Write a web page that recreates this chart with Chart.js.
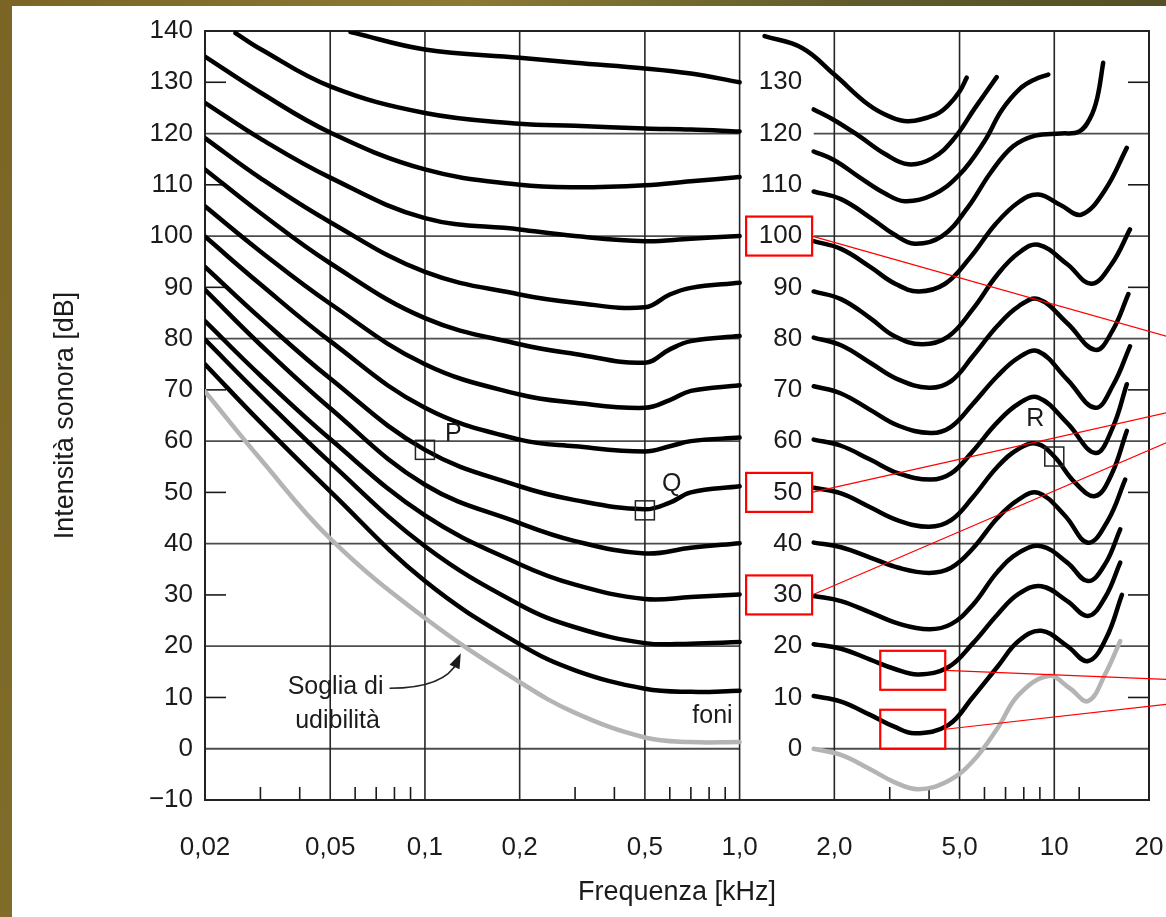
<!DOCTYPE html>
<html>
<head>
<meta charset="utf-8">
<script src="https://cdn.jsdelivr.net/npm/chart.js@4.4.1/dist/chart.umd.min.js"></script>
<style>
  html, body { margin: 0; padding: 0; }
  body {
    width: 1166px; height: 917px; overflow: hidden; position: relative;
    background: linear-gradient(100deg, #7a6524 0%, #8c7a34 35%, #5f5b2a 65%, #4d4a22 100%);
  }
  #foglio { position: absolute; left: 12px; top: 6px; right: 0; bottom: 0; background: #fff; }
  #grafico { position: absolute; left: 0; top: 0; }
</style>
</head>
<body>
<div id="foglio"></div>
<canvas id="grafico" width="1166" height="917"></canvas>
<script>
// ----------- DATI ------------
// frequenze in kHz, livelli in dB; [1.3, null] separa la parte sinistra dalla destra
const xTickValues = [0.02, 0.05, 0.1, 0.2, 0.5, 1, 2, 5, 10, 20];
const xTickLabels = ['0,02', '0,05', '0,1', '0,2', '0,5', '1,0', '2,0', '5,0', '10', '20'];
const xGridValues = [0.05, 0.1, 0.2, 0.5, 1, 2, 5, 10];
const xMinorTicks = [0.03, 0.04, 0.06, 0.07, 0.08, 0.09, 0.3, 0.4, 0.6, 0.7, 0.8, 0.9, 3, 4, 6, 7, 8, 9, 12];
const yGridValues = [0, 20, 40, 60, 80, 100, 120];
const yShortTicks = [10, 30, 50, 70, 90, 110, 130];
const foniLabels = [130, 120, 110, 100, 90, 80, 70, 60, 50, 40, 30, 20, 10, 0];

const soglia = [[0.02,69.7],[0.03,56.5],[0.05,41],[0.1,25.5],[0.2,13],[0.3,7],[0.5,2.2],[0.7,1.3],[1,1.3],[1.3,null],
  [1.72,0],[2.1,-1.2],[2.6,-4],[3.1,-6.5],[3.7,-7.9],[4.6,-6.3],[5.5,-2.5],[6.6,4],[7.7,10.5],[9.6,14.2],[11.2,11.8],[12.8,9.3],[14.5,14.5],[16.2,21]];
const ph10 = [[0.02,75],[0.03,63.7],[0.05,50.2],[0.1,32.7],[0.2,20.4],[0.3,15.3],[0.5,11.7],[0.7,11.1],[1,11.3],[1.3,null],
  [1.72,10.3],[2.1,9.2],[2.6,6.6],[3.1,4.3],[3.6,3],[4.6,4.6],[5.5,10],[6.6,16],[7.7,21],[9.1,23],[11,20],[12.8,17.1],[14.6,21.5],[16.4,30]];
const ph20 = [[0.02,79.8],[0.03,68.9],[0.05,55.8],[0.1,39.5],[0.2,28.1],[0.3,23.7],[0.5,20.6],[0.7,20.5],[1,20.8],[1.3,null],
  [1.72,20.4],[2.1,19.5],[2.6,17.4],[3.1,15.6],[3.7,14.5],[4.6,15.9],[5.5,20.5],[6.6,26.2],[7.7,30.2],[9.1,31.7],[11,28.8],[12.8,25.9],[14.5,29.5],[16.2,36.3]];
const ph30 = [[0.02,83.4],[0.03,72.8],[0.05,60.4],[0.1,45.5],[0.2,36],[0.3,32],[0.5,29.2],[0.7,29.6],[1,30.1],[1.3,null],
  [1.72,29.8],[2.1,28.8],[2.6,26.6],[3.2,24.4],[4,23.3],[4.7,24.3],[5.5,28],[6.6,34.5],[7.7,38.2],[9.1,39.5],[11,36.3],[12.8,32.7],[14.5,36],[16.2,42.8]];
const ph40 = [[0.02,89.5],[0.03,78.8],[0.05,66.4],[0.1,51.5],[0.2,44],[0.3,40.5],[0.5,38.1],[0.7,39.2],[1,40.1],[1.3,null],
  [1.72,40.2],[2.1,39.3],[2.6,37.3],[3.2,35.3],[4,34.3],[4.7,35.3],[5.5,39],[6.6,45],[7.7,48.6],[8.9,49.9],[10.8,45.5],[12.8,40.2],[14.8,44.5],[16.8,52.5]];
const ph50 = [[0.02,94],[0.03,84],[0.05,72.2],[0.1,58.3],[0.2,51.2],[0.3,48.5],[0.5,46.7],[0.6,48],[0.7,50],[1,51.2],[1.3,null],
  [1.72,50.9],[2.1,49.8],[2.6,47.1],[3.2,44.5],[4,43.3],[4.7,44.6],[5.5,49],[6.6,55],[7.7,58.5],[8.8,59.5],[10,57],[11.6,52],[13.5,49.3],[15.2,53.5],[17,62]];
const ph60 = [[0.02,99.9],[0.03,90.6],[0.05,79.5],[0.1,66.5],[0.2,60.3],[0.3,59],[0.5,58],[0.6,59],[0.7,60],[1,60.7],[1.3,null],
  [1.72,60.3],[2.1,59.1],[2.6,56.4],[3.2,53.7],[4.05,52.5],[4.7,53.7],[5.5,58],[6.6,63.7],[7.7,67.3],[8.9,68.5],[11,63.5],[13.5,57.7],[15.3,62.5],[17,71.1]];
const ph70 = [[0.02,105.8],[0.03,97],[0.05,86.8],[0.1,75],[0.2,69.1],[0.3,67.5],[0.5,66.5],[0.6,68],[0.7,69.8],[1,70.9],[1.3,null],
  [1.72,70.7],[2.1,69.3],[2.6,66.1],[3.2,63],[4.05,61.6],[4.7,62.8],[5.5,67.2],[6.6,72.7],[7.7,76.3],[8.9,77.5],[11,72],[13.5,66.5],[15.4,71],[17.4,78.5]];
const ph80 = [[0.02,113],[0.03,104.5],[0.05,94.7],[0.1,84],[0.2,78.9],[0.3,77],[0.5,75.3],[0.6,77.9],[0.7,79.5],[1,80.5],[1.3,null],
  [1.72,80.2],[2.1,78.7],[2.6,75.3],[3.2,72],[4,70.4],[4.7,71.7],[5.5,76.5],[6.6,82.5],[7.7,86.3],[8.9,87.7],[11,83],[13.5,77.8],[15.3,81.5],[17.2,88.7]];
const ph90 = [[0.02,119.1],[0.03,111.3],[0.05,102.7],[0.1,93],[0.2,88.6],[0.3,87],[0.5,86.1],[0.6,88.6],[0.7,89.9],[1,90.9],[1.3,null],
  [1.72,89.2],[2.1,87.7],[2.6,84],[3.1,80.5],[3.8,78.9],[4.6,80.4],[5.5,85.7],[6.6,92.5],[7.7,96.7],[8.9,98.3],[11,94.5],[13.1,90.7],[15.2,94.5],[17.4,101.3]];
const ph100 = [[0.02,126],[0.03,119],[0.05,111.4],[0.1,103.5],[0.2,101.3],[0.3,100],[0.5,99],[0.7,99.5],[1,100],[1.3,null],
  [1.72,99],[2.1,97.5],[2.6,94],[3.1,90.8],[3.7,89.2],[4.5,90.7],[5.4,95.8],[6.5,102.3],[7.7,106.6],[8.9,108.1],[10.5,106],[12.2,104.2],[14.5,109],[17,117.2]];
const ph110 = [[0.02,135],[0.03,128],[0.05,120.2],[0.1,113],[0.2,110],[0.3,109.5],[0.5,109.9],[0.7,110.7],[1,111.5],[1.3,null],
  [1.72,108.7],[2.1,107.2],[2.6,103.6],[3.1,100.3],[3.6,98.5],[4.4,100],[5.3,105.5],[6.3,112.5],[7.4,117.5],[8.7,119.6],[10.5,120],[12,120.4],[13,123],[13.7,127],[14.3,133.8]];
const ph120 = [[0.025,139.6],[0.03,136.5],[0.05,129.2],[0.1,124],[0.2,121.9],[0.3,121.5],[0.5,121],[0.7,120.8],[1,120.4],[1.3,null],
  [1.72,116.5],[2,114.8],[2.4,111.5],[2.9,108.3],[3.35,106.8],[4.1,108],[5,112],[6,118.5],[6.8,124.5],[7.8,128.8],[8.7,130.6],[9.57,131.5]];
const ph130 = [[0.058,139.8],[0.1,136.4],[0.2,134.8],[0.3,133.8],[0.5,132.7],[0.7,131.7],[1,130],[1.3,null],
  [1.72,124.7],[2,122.6],[2.4,119.5],[2.9,116],[3.44,114],[4.1,115.2],[4.8,119],[5.6,125],[6.56,131]];
const ph140 = [[1.2,139],[1.58,136.7],[2,131.5],[2.57,125.6],[3,123.3],[3.44,122.4],[4.2,123.7],[4.6,125.5],[5,128.2],[5.27,130.9]];
const phonSeries = [ph10, ph20, ph30, ph40, ph50, ph60, ph70, ph80, ph90, ph100, ph110, ph120, ph130, ph140];

// punti P, Q, R
const markerNames = ['P', 'Q', 'R'];
const markerFreq = [0.1, 0.5, 10];
const markerDb = [58.3, 46.5, 57];

// riquadri rossi
const redLabelValues = [100, 50, 30];
const redLabelTargetDb = [80.4, 65.6, 59.8];
const redMinFreq = 3.55;
const redMinDb = [15.3, 3.8];
const redMinTargetDb = [13.5, 8.7];
const redTargetFreq = 22.9;

const FONT = "'Liberation Sans', Arial, Helvetica, sans-serif";
const INK = '#1b1b1b';

// ----------- PLUGIN: griglia e scritte ------------
function seg(ctx, x1, y1, x2, y2) {
  ctx.beginPath(); ctx.moveTo(x1, y1); ctx.lineTo(x2, y2); ctx.stroke();
}

const quadro = {
  id: 'quadro',
  beforeDatasetsDraw(chart) {
    const { ctx, chartArea: a, scales: { x, y } } = chart;
    const xEndLeft = x.getPixelForValue(1);
    const xStartRight = x.getPixelForValue(1.72);
    ctx.save();
    ctx.lineCap = 'butt';
    // righe orizzontali, interrotte dalla colonna dei foni
    ctx.strokeStyle = '#4d4d4d';
    ctx.lineWidth = 1.8;
    yGridValues.forEach(v => {
      const py = y.getPixelForValue(v);
      seg(ctx, a.left, py, xEndLeft, py);
      seg(ctx, xStartRight, py, a.right, py);
    });
    // righe verticali
    ctx.strokeStyle = '#262626';
    ctx.lineWidth = 1.6;
    xGridValues.forEach(f => {
      const px = x.getPixelForValue(f);
      seg(ctx, px, a.top, px, a.bottom);
    });
    // tacche corte sui due lati
    ctx.strokeStyle = '#1a1a1a';
    yShortTicks.forEach(v => {
      const py = y.getPixelForValue(v);
      seg(ctx, a.left, py, a.left + 21, py);
      seg(ctx, a.right - 21, py, a.right, py);
    });
    // tacche in basso
    xMinorTicks.forEach(f => {
      const px = x.getPixelForValue(f);
      seg(ctx, px, a.bottom, px, a.bottom - 13);
    });
    // cornice
    ctx.strokeStyle = '#222';
    ctx.lineWidth = 2;
    ctx.strokeRect(a.left, a.top, a.right - a.left, a.bottom - a.top);
    // colonna dei foni
    ctx.fillStyle = INK;
    ctx.font = '26px ' + FONT;
    ctx.textAlign = 'right';
    ctx.textBaseline = 'middle';
    const lx = x.getPixelForValue(1.58);
    foniLabels.forEach(v => ctx.fillText(String(v), lx, y.getPixelForValue(v)));
    ctx.restore();
  },
  afterDatasetsDraw(chart) {
    const { ctx, scales: { x, y } } = chart;
    ctx.save();
    // P, Q, R
    const dx = [20, 17, -28], dy = [-16, -26, -37];
    ctx.strokeStyle = '#222';
    ctx.lineWidth = 1.5;
    ctx.fillStyle = INK;
    ctx.font = '25px ' + FONT;
    ctx.textAlign = 'left';
    ctx.textBaseline = 'middle';
    markerNames.forEach((n, i) => {
      const px = x.getPixelForValue(markerFreq[i]);
      const py = y.getPixelForValue(markerDb[i]);
      ctx.strokeRect(px - 9.5, py - 9.5, 19, 19);
      ctx.fillText(n, px + dx[i], py + dy[i]);
    });
    // Soglia di udibilità
    ctx.textAlign = 'center';
    const sx = x.getPixelForValue(0.052);
    const sy = y.getPixelForValue(12);
    ctx.fillText('Soglia di', sx, sy);
    ctx.fillText('udibilità', sx + 2, sy + 34);
    const ax = sx + ctx.measureText('Soglia di').width / 2 + 6;
    const tx = x.getPixelForValue(0.13), ty = y.getPixelForValue(19) + 2;
    const cx = tx - 16, cy = sy + 1;
    ctx.lineWidth = 1.6;
    ctx.beginPath(); ctx.moveTo(ax, sy + 1); ctx.quadraticCurveTo(cx, cy, tx - 3, ty + 8); ctx.stroke();
    const ang = Math.atan2(ty - cy, tx - cx);
    ctx.beginPath();
    ctx.moveTo(tx, ty);
    ctx.lineTo(tx - 15 * Math.cos(ang) + 5.5 * Math.sin(ang), ty - 15 * Math.sin(ang) - 5.5 * Math.cos(ang));
    ctx.lineTo(tx - 15 * Math.cos(ang) - 5.5 * Math.sin(ang), ty - 15 * Math.sin(ang) + 5.5 * Math.cos(ang));
    ctx.closePath(); ctx.fill();
    // foni
    ctx.textAlign = 'right';
    ctx.fillText('foni', x.getPixelForValue(1) - 7, y.getPixelForValue(6.3));
    ctx.restore();
  },
  afterDraw(chart) {
    const { ctx, scales: { x, y } } = chart;
    ctx.save();
    ctx.strokeStyle = '#ff0000';
    const lx = x.getPixelForValue(1.58);
    const ex = x.getPixelForValue(redTargetFreq);
    redLabelValues.forEach((v, i) => {
      const py = y.getPixelForValue(v);
      ctx.lineWidth = 2.2;
      ctx.strokeRect(lx - 56, py - 19.5, 66, 39);
      ctx.lineWidth = 1.2;
      seg(ctx, lx + 10, py, ex, y.getPixelForValue(redLabelTargetDb[i]));
    });
    const mx = x.getPixelForValue(redMinFreq);
    redMinDb.forEach((v, i) => {
      const py = y.getPixelForValue(v);
      ctx.lineWidth = 2.2;
      ctx.strokeRect(mx - 32.5, py - 19.5, 65, 39);
      ctx.lineWidth = 1.2;
      seg(ctx, mx + 32.5, py, ex, y.getPixelForValue(redMinTargetDb[i]));
    });
    ctx.restore();
  }
};

// ----------- CONFIGURAZIONE ------------
const toPoints = s => s.map(([f, db]) => ({ x: f, y: db }));
const datasets = [
  { data: toPoints(soglia), borderColor: '#b4b4b4', borderWidth: 4.5 }
].concat(phonSeries.map(s => ({ data: toPoints(s), borderColor: '#000', borderWidth: 4.5 })));

const config = {
  type: 'line',
  data: { datasets: datasets },
  options: {
    responsive: false,
    animation: false,
    devicePixelRatio: 1,
    layout: { padding: { top: 31, right: 17, bottom: 0, left: 0 } },
    elements: {
      point: { radius: 0 },
      line: { tension: 0.4, borderCapStyle: 'round', borderJoinStyle: 'round', fill: false }
    },
    plugins: { legend: { display: false }, tooltip: { enabled: false } },
    scales: {
      x: {
        type: 'logarithmic',
        min: 0.02,
        max: 20,
        afterBuildTicks: s => { s.ticks = xTickValues.map(v => ({ value: v })); },
        afterFit: s => { s.height = 117; s.paddingLeft = 0; s.paddingRight = 0; },
        grid: { display: false, drawTicks: false },
        border: { display: false },
        ticks: {
          autoSkip: false, maxRotation: 0, padding: 32, color: INK,
          font: { family: FONT, size: 26 },
          callback: (v, i) => xTickLabels[i]
        },
        title: {
          display: true, text: 'Frequenza [kHz]', color: INK,
          font: { family: FONT, size: 27 }, padding: { top: 0, bottom: 8 }
        }
      },
      y: {
        type: 'linear',
        min: -10,
        max: 140,
        afterFit: s => { s.width = 205; s.paddingTop = 0; s.paddingBottom = 0; },
        grid: { display: false, drawTicks: false },
        border: { display: false },
        ticks: {
          stepSize: 10, padding: 12, color: INK,
          font: { family: FONT, size: 26 },
          callback: v => String(v).replace('-', '\u2212')
        },
        title: {
          display: true, text: 'Intensità sonora [dB]', color: INK,
          font: { family: FONT, size: 27 }, padding: { top: 49, bottom: 0 }
        }
      }
    }
  },
  plugins: [quadro]
};

// ----------- RENDER ------------
const grafico = new Chart(document.getElementById('grafico').getContext('2d'), config);
</script>
</body>
</html>
